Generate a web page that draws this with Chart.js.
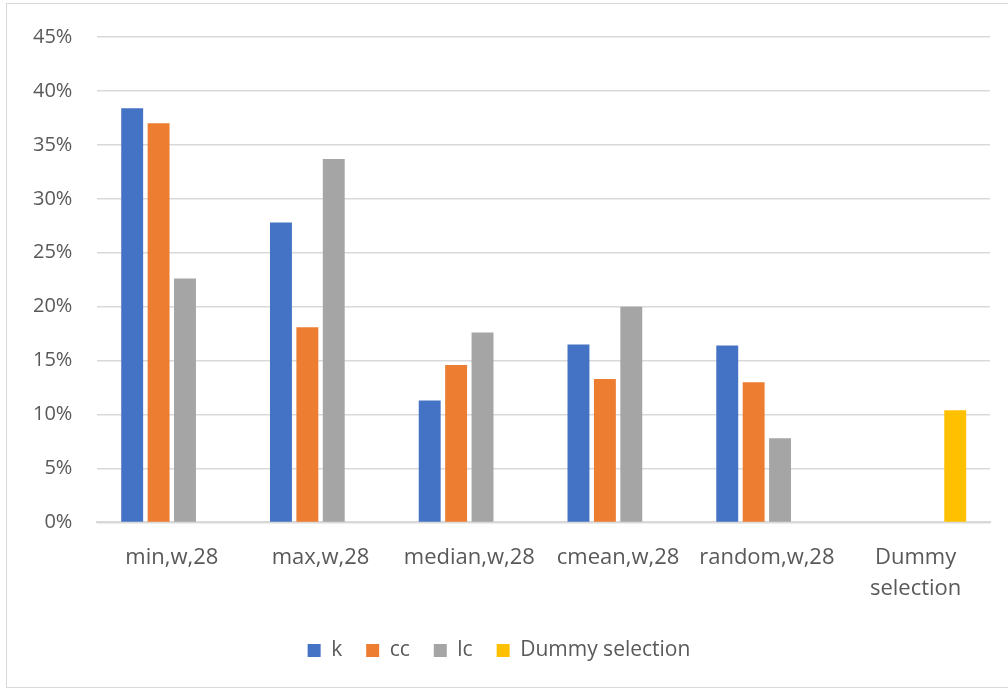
<!DOCTYPE html>
<html>
<head>
<meta charset="utf-8">
<script src="https://cdn.jsdelivr.net/npm/chart.js@4.4.1/dist/chart.umd.min.js"></script>
<style>
  html, body { margin: 0; padding: 0; background: #fff; }
  #frame { position: absolute; left: 6px; top: 3px; width: 1010px; height: 685px; border: 1px solid #d9d9d9; box-sizing: border-box; }
  #wrap { position: absolute; left: 0; top: 0; width: 1008px; height: 690px; }
</style>
</head>
<body>
<div id="frame"></div>
<div id="wrap"><canvas id="myChart"></canvas></div>
<script>
const categories = ['min,w,28', 'max,w,28', 'median,w,28', 'cmean,w,28', 'random,w,28', ['Dummy', 'selection']];
const kValues = [38.4, 27.8, 11.3, 16.5, 16.4, null];
const ccValues = [37.0, 18.1, 14.6, 13.3, 13.0, null];
const lcValues = [22.6, 33.7, 17.6, 20.0, 7.8, null];
const dummyValues = [null, null, null, null, null, 10.4];

const textColor = '#595959';
const fontFam = "'Open Sans', 'Liberation Sans', sans-serif";

function createBarChart() {
    const data = {
        labels: categories,
        datasets: [
            { label: 'k', data: kValues, backgroundColor: '#4472C4' },
            { label: 'cc', data: ccValues, backgroundColor: '#ED7D31' },
            { label: 'lc', data: lcValues, backgroundColor: '#A5A5A5' },
            { label: 'Dummy selection', data: dummyValues, backgroundColor: '#FFC000' }
        ]
    };
    const config = {
        type: 'bar',
        data: data,
        options: {
            responsive: true,
            maintainAspectRatio: false,
            animation: false,
            categoryPercentage: 0.71,
            barPercentage: 0.83,
            layout: { padding: { left: 8, right: 18, top: 25, bottom: 19 } },
            plugins: {
                legend: {
                    position: 'bottom',
                    labels: {
                        boxWidth: 13, boxHeight: 13, padding: 24,
                        color: textColor,
                        font: { family: fontFam, size: 21 }
                    }
                },
                tooltip: { enabled: false }
            },
            scales: {
                x: {
                    grid: { display: false },
                    border: { color: '#d9d9d9', width: 2 },
                    ticks: {
                        color: textColor, padding: 12, maxRotation: 0,
                        font: { family: fontFam, size: 22, lineHeight: 1.4 }
                    }
                },
                y: {
                    min: 0, max: 45,
                    border: { display: false },
                    grid: { color: '#d9d9d9', lineWidth: 1.5, drawTicks: false },
                    ticks: {
                        stepSize: 5, color: textColor, padding: 25,
                        font: { family: fontFam, size: 20 },
                        callback: v => v + '%'
                    }
                }
            }
        }
    };
    return new Chart(document.getElementById('myChart'), config);
}

createBarChart();
</script>
</body>
</html>
